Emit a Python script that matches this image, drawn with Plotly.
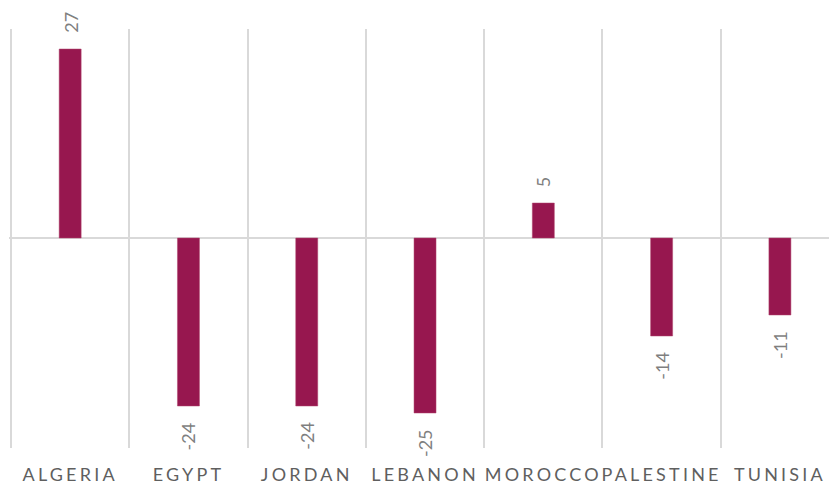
import plotly.graph_objects as go

countries = ["ALGERIA", "EGYPT", "JORDAN", "LEBANON", "MOROCCO", "PALESTINE", "TUNISIA"]
values = [27, -24, -24, -25, 5, -14, -11]

bar_color = "#97174f"
fig = go.Figure()
fig.add_trace(go.Bar(
    x=countries, y=values, width=0.186,
    marker=dict(color=bar_color, line=dict(color="#b0466f", width=0.5)),
    hoverinfo="skip",
))

for c, v in zip(countries, values):
    fig.add_annotation(
        x=c, y=v, text=str(v), showarrow=False, textangle=-90,
        yanchor="bottom" if v > 0 else "top",
        yshift=14 if v > 0 else -14,
        font=dict(family="Lato", size=18, color="#7f7f7f"),
    )

fig.update_layout(
    width=829, height=485,
    margin=dict(l=9, r=0, t=29, b=37),
    paper_bgcolor="white", plot_bgcolor="white",
    showlegend=False,
    xaxis=dict(
        type="category", range=[-0.517, 6.415],
        tickson="boundaries", showgrid=True, gridcolor="#d9d9d9", gridwidth=1.5,
        ticks="", showline=False, zeroline=False,
        tickfont=dict(family="Lato", size=18, color="#5f5f5f"),
        ticklabelstandoff=14,
    ),
    yaxis=dict(
        range=[-30, 29.86], showgrid=False, showticklabels=False, ticks="",
        zeroline=True, zerolinecolor="#d9d9d9", zerolinewidth=2, showline=False,
    ),
)

post = """
document.body.style.margin='0';
document.body.style.overflow='hidden';
function ls(){document.querySelectorAll('.xtick text').forEach(function(t){t.style.letterSpacing='3.2px';});}
ls();
var gd=document.getElementById('{plot_id}');
if (gd && gd.on) { gd.on('plotly_afterplot', ls); }
"""
fig.write_html("out.html", post_script=post, config={"displayModeBar": False})
